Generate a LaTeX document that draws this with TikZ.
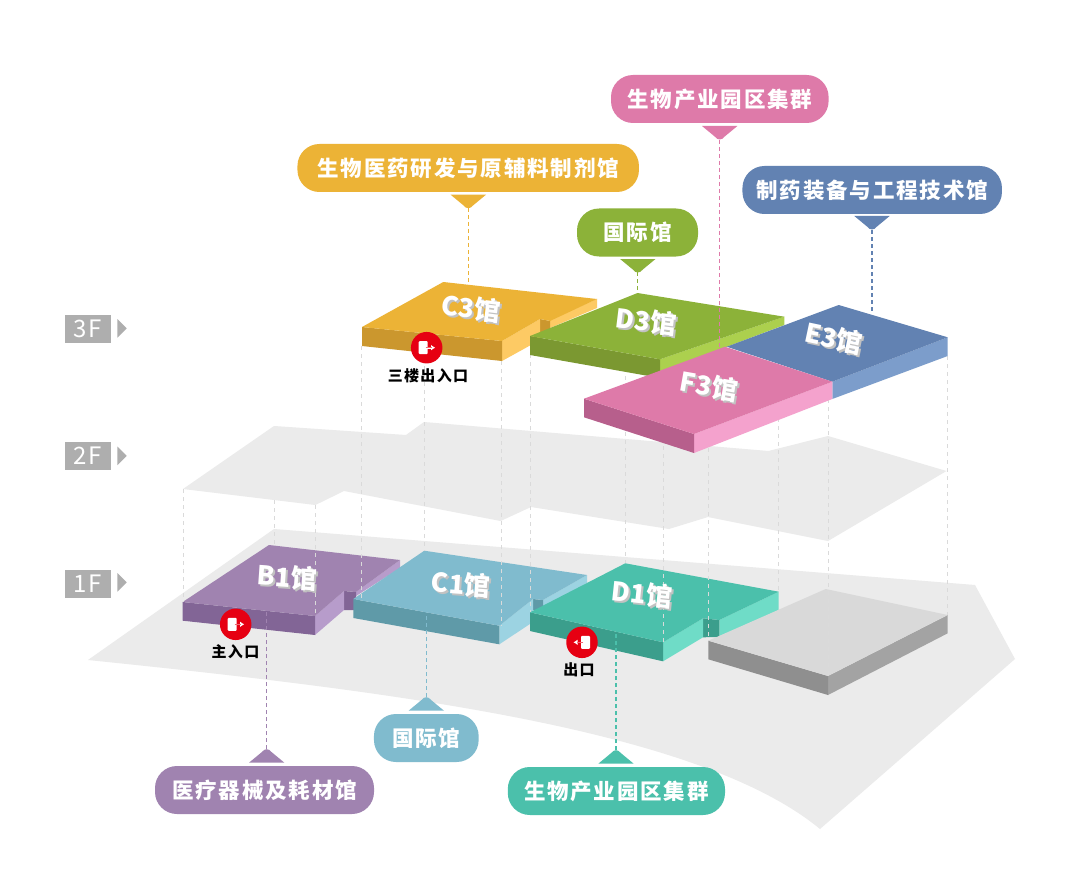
\documentclass[tikz,border=0pt]{standalone}
\usepackage{fontspec}
\usetikzlibrary{arrows.meta}
\setmainfont{Noto Sans CJK SC}
\newfontfamily\spaced[LetterSpace=8.5]{Noto Sans CJK SC}
\newfontfamily\floorfont[LetterSpace=6]{Noto Sans CJK SC}
\definecolor{flr}{HTML}{EBEBEB}
\definecolor{guidegray}{HTML}{DADADA}
\definecolor{yT}{HTML}{ECB336}\definecolor{yD}{HTML}{CB972E}\definecolor{yL}{HTML}{FDCA64}
\definecolor{gT}{HTML}{8CB239}\definecolor{gD}{HTML}{7B9831}\definecolor{gL}{HTML}{ACD04E}
\definecolor{pT}{HTML}{DE7AA9}\definecolor{pD}{HTML}{B75F8C}\definecolor{pL}{HTML}{F4A2CD}
\definecolor{bT}{HTML}{6282B2}\definecolor{bL}{HTML}{7C9DCB}
\definecolor{uT}{HTML}{A083B0}\definecolor{uD}{HTML}{826596}\definecolor{uL}{HTML}{B79CCB}
\definecolor{cT}{HTML}{80BBCE}\definecolor{cD}{HTML}{5F9AA8}\definecolor{cL}{HTML}{9CD3E2}
\definecolor{tT}{HTML}{4BC0AB}\definecolor{tD}{HTML}{3B9E8C}\definecolor{tL}{HTML}{6FDCC7}
\definecolor{xT}{HTML}{D9D9D9}\definecolor{xD}{HTML}{8F8F8F}\definecolor{xL}{HTML}{A3A3A3}
\definecolor{flab}{HTML}{AEAEAE}
\definecolor{exitred}{HTML}{E60012}
\definecolor{shade}{HTML}{C2C2C2}
\tikzset{
  pill/.style={rounded corners=22pt,inner sep=0pt,text=white,font=\spaced\bfseries\fontsize{21.5}{24}\selectfont,minimum height=48pt},
  floorbox/.style={fill=flab,text=white,inner sep=0pt,minimum width=46pt,minimum height=28pt,font=\floorfont\fontsize{24}{26}\selectfont},
  exitlabel/.style={inner sep=0pt,text=black,font=\spaced\bfseries\fontsize{15}{16}\selectfont},
  exitdot/.style={circle,fill=exitred,minimum size=31.5pt,inner sep=0pt},
  halltext/.style={inner sep=0pt,font=\bfseries\fontsize{26}{28}\selectfont,text=white},
  hallshade/.style={inner sep=0pt,font=\bfseries\fontsize{26}{28}\selectfont,text=shade},
  guide/.style={guidegray,line width=0.8pt,dash pattern=on 4pt off 4pt},
  lead/.style={line width=1.1pt,dash pattern=on 4pt off 3pt}
}
% tip: x, y of base, direction (+1 down, -1 up), colour
\newcommand{\tiptri}[4]{\fill[#4] ({#1-17.7},{#2}) -- ({#1-5},{#2+#3*10.5}) .. controls ({#1-2},{#2+#3*14.5}) and ({#1+2},{#2+#3*14.5}) .. ({#1+5},{#2+#3*10.5}) -- ({#1+17.7},{#2}) -- cycle;}
% hall label: name, x, y, rotation, text
\newcommand{\halllabel}[5]{%
  \node[hallshade,rotate=#4] (#1s) at ({#2+2},{#3+2}) {#5};
  \node[halltext,rotate=#4] (#1) at (#2,#3) {#5};}
\begin{document}
\begin{tikzpicture}[x=1pt,y=-1pt]
\useasboundingbox (0,0) rectangle (1080,888);
\fill[white] (0,0) rectangle (1080,888);
% floors
\fill[flr] (88,660) -- (274,529) -- (975,585) -- (1015,659) -- (820,829) .. controls (700,730) and (400,692) .. (88,660) -- cycle;
\fill[flr] (183,489) -- (274,426) -- (406,435) -- (424,422) -- (768.5,451) -- (828,436) -- (946.5,471) -- (828,541) -- (708,517) -- (669,529) -- (531,507) -- (500.6,521) -- (344,491) -- (315.4,505) -- cycle;
% 1F blocks
\fill[uL] (400,560) -- (400,568) -- (356,596) -- (356,592) -- cycle;
\fill[uD] (344,591) -- (356,592) -- (356,610) -- (344,610) -- cycle;
\fill[uL] (315,616) -- (344,591) -- (344,610) -- (315,635) -- cycle;
\fill[uD] (182.7,602) -- (315,616) -- (315,635) -- (182.7,620.7) -- cycle;
\fill[uT] (182.7,602) -- (269,545) -- (400,560) -- (356,592) -- (344,591) -- (315,616) -- cycle;
\fill[cL] (587,575) -- (587,583) -- (543,608) -- (543,600) -- cycle;
\fill[cD] (533,599) -- (543,600) -- (543,610) -- (533,610) -- cycle;
\fill[cL] (499.3,625.7) -- (533,599) -- (533,622) -- (499.3,644.3) -- cycle;
\fill[cD] (353.3,599) -- (499.3,625.7) -- (499.3,644.3) -- (353.3,618) -- cycle;
\fill[cT] (353.3,599) -- (424.3,550.7) -- (587,575) -- (543,600) -- (533,599) -- (499.3,625.7) -- cycle;
\fill[tL] (778.7,591.7) -- (778.7,610) -- (719.3,637) -- (719.3,620) -- cycle;
\fill[tD] (703,618.3) -- (719.3,620) -- (719.3,637) -- (703,637.3) -- cycle;
\fill[tL] (663,642.3) -- (703,618.3) -- (703,637.3) -- (663,661.3) -- cycle;
\fill[tD] (530,612.3) -- (663,642.3) -- (663,661.3) -- (530,631) -- cycle;
\fill[tT] (530,612.3) -- (625.3,563.3) -- (778.7,591.7) -- (719.3,620) -- (703,618.3) -- (663,642.3) -- cycle;
\fill[xL] (828,676) -- (947.7,615) -- (947.7,633.3) -- (828,695) -- cycle;
\fill[xD] (708.3,640.7) -- (828,676) -- (828,695) -- (708.3,659.3) -- cycle;
\fill[xT] (708.3,640.7) -- (825.7,589) -- (947.7,615) -- (828,676) -- cycle;
% guide lines
\coordinate (g1a) at (183,489); \coordinate (g1b) at (183,602);
\coordinate (g2a) at (274,500); \coordinate (g2b) at (274,545);
\coordinate (g3a) at (315.5,505); \coordinate (g3b) at (315.5,616);
\coordinate (g4a) at (361.5,346); \coordinate (g4b) at (361.5,598);
\coordinate (g5a) at (424.6,358); \coordinate (g5b) at (424.6,551);
\coordinate (g6a) at (501,361); \coordinate (g6b) at (501,626);
\coordinate (g7a) at (530.7,354); \coordinate (g7b) at (530.7,612);
\coordinate (g8a) at (625,376); \coordinate (g8b) at (625,563);
\coordinate (g9a) at (663,430); \coordinate (g9b) at (663,642);
\coordinate (g10a) at (708.5,440); \coordinate (g10b) at (708.5,641);
\coordinate (g11a) at (778.7,410); \coordinate (g11b) at (778.7,592);
\coordinate (g12a) at (828,399); \coordinate (g12b) at (828,676);
\coordinate (g13a) at (947.6,356); \coordinate (g13b) at (947.6,615);
\foreach \i in {1,...,13} {\draw[guide] (g\i a) -- (g\i b);}
% 3F blocks
\fill[yL] (550,320) -- (597,299) -- (597,308) -- (550,328) -- cycle;
\fill[yD] (540,319) -- (550,321) -- (550,332) -- (540,332) -- cycle;
\fill[yL] (502,341) -- (540,319) -- (540,340) -- (502,361) -- cycle;
\fill[yD] (362,327) -- (502,341) -- (502,361) -- (362,346) -- cycle;
\fill[yT] (362,327) -- (443.3,282) -- (597,299) -- (550,321) -- (540,319) -- (502,341) -- cycle;
\fill[gL] (660,359.3) -- (784.3,316.7) -- (784.3,325) -- (660,372) -- cycle;
\fill[gD] (530,336) -- (660,359.3) -- (660,378) -- (530,355) -- cycle;
\fill[gT] (530,336) -- (637.5,293) -- (784.3,316.7) -- (660,359.3) -- cycle;
\fill[bL] (832.3,381.7) -- (947.7,337.3) -- (947.7,356) -- (832.3,399) -- cycle;
\fill[bT] (726.7,346.7) -- (838.7,305) -- (947.7,337.3) -- (832.3,381.7) -- cycle;
\fill[pL] (694,434) -- (832.3,381.7) -- (832.3,399) -- (694,453) -- cycle;
\fill[pD] (584,398.7) -- (694,434) -- (694,453) -- (584,417.3) -- cycle;
\fill[pT] (584,398.7) -- (725,346.7) -- (832.3,381.7) -- (694,434) -- cycle;
% hall labels
\halllabel{c3}{471}{308}{-7}{C3馆}
\halllabel{d3}{646}{321}{-7}{D3馆}
\halllabel{e3}{834}{338}{-12}{E3馆}
\halllabel{f3}{709}{386}{-10}{F3馆}
\halllabel{b1}{287}{577}{-4}{B1馆}
\halllabel{c1}{461}{584}{-4}{C1馆}
\halllabel{d1}{642}{594}{-6}{D1馆}
% pills
\node[pill,fill=pT,minimum width=217.6pt] (pink) at (719.8,99) {生物产业园区集群};
\node[pill,fill=yT,minimum width=341.5pt] (yellow) at (468.2,168) {生物医药研发与原辅料制剂馆};
\node[pill,fill=bT,minimum width=259.5pt] (blue) at (872.2,190) {制药装备与工程技术馆};
\node[pill,fill=gT,minimum width=121pt] (green) at (637.5,232.5) {国际馆};
\node[pill,fill=uT,minimum width=219pt] (purple) at (264.5,790) {医疗器械及耗材馆};
\node[pill,fill=cT,minimum width=104.7pt] (cyan) at (426.3,738) {国际馆};
\node[pill,fill=tT,minimum width=217.2pt] (teal) at (616.4,791) {生物产业园区集群};
\tiptri{719.7}{126}{1}{pT}
\tiptri{468.3}{194.7}{1}{yT}
\tiptri{872}{216}{1}{bT}
\tiptri{637.8}{259}{1}{gT}
\tiptri{266.7}{762.7}{-1}{uT}
\tiptri{426.3}{710.7}{-1}{cT}
\tiptri{616}{763.7}{-1}{tT}
% leads
\coordinate (pinkTip) at (719.7,140); \coordinate (pinkEnd) at (719.7,347);
\coordinate (yelTip) at (468.3,208); \coordinate (yelEnd) at (468.3,284);
\coordinate (bluTip) at (872,230); \coordinate (bluEnd) at (872,313);
\coordinate (grnTip) at (637.8,272); \coordinate (grnEnd) at (637.8,293);
\coordinate (purTip) at (266.7,749); \coordinate (purEnd) at (266.7,612);
\coordinate (cyaTip) at (426.3,697); \coordinate (cyaEnd) at (426.3,612);
\coordinate (teaTip) at (616,750); \coordinate (teaEnd) at (616,632);
\draw[lead,pT] (pinkTip) -- (pinkEnd);
\draw[lead,yT] (yelTip) -- (yelEnd);
\draw[lead,bT] (bluTip) -- (bluEnd);
\draw[lead,gT] (grnTip) -- (grnEnd);
\draw[lead,uT] (purTip) -- (purEnd);
\draw[lead,cT] (cyaTip) -- (cyaEnd);
\draw[lead,tT] (teaTip) -- (teaEnd);
% exits
\node[exitdot] (ex3) at (426.7,347.7) {};
\fill[white,rounded corners=1pt] ([xshift=-8pt,yshift=6.5pt]ex3.center) rectangle ([xshift=1pt,yshift=-6.5pt]ex3.center);
\draw[white,line width=1.6pt,-{Latex[length=4pt,width=5.5pt]}] ([xshift=-1pt]ex3.center) -- ([xshift=8.5pt]ex3.center);
\draw[exitred!60!white,line width=1.2pt] ([xshift=-1pt]ex3.center) -- ([xshift=5pt]ex3.center);
\node[exitdot] (ex1) at (235.7,624.3) {};
\fill[white,rounded corners=1pt] ([xshift=-8pt,yshift=6.5pt]ex1.center) rectangle ([xshift=1pt,yshift=-6.5pt]ex1.center);
\draw[white,line width=1.6pt,-{Latex[length=4pt,width=5.5pt]}] ([xshift=-1pt]ex1.center) -- ([xshift=8.5pt]ex1.center);
\draw[exitred!60!white,line width=1.2pt] ([xshift=-1pt]ex1.center) -- ([xshift=5pt]ex1.center);
\node[exitdot] (ex2) at (582,642.3) {};
\fill[white,rounded corners=1pt] ([xshift=-1pt,yshift=6.5pt]ex2.center) rectangle ([xshift=8pt,yshift=-6.5pt]ex2.center);
\draw[white,line width=1.6pt,-{Latex[length=4pt,width=5.5pt]}] ([xshift=1pt]ex2.center) -- ([xshift=-8.5pt]ex2.center);
\draw[exitred!60!white,line width=1.2pt] ([xshift=1pt]ex2.center) -- ([xshift=-5pt]ex2.center);
\node[exitlabel] (lab3) at (428,376) {三楼出入口};
\node[exitlabel] (lab1) at (235.5,652) {主入口};
\node[exitlabel] (lab2) at (579,670) {出口};
% floor tags
\node[floorbox] (f3) at (88,328.5) {3F};
\node[floorbox] (f2) at (88,456) {2F};
\node[floorbox] (f1) at (88,584) {1F};
\fill[flab] (117.3,319) -- (126.7,328.3) -- (117.3,337.7) -- cycle;
\fill[flab] (117.3,446.5) -- (126.7,455.8) -- (117.3,465.2) -- cycle;
\fill[flab] (117.3,573) -- (126.7,582.3) -- (117.3,591.7) -- cycle;
\end{tikzpicture}
\end{document}
